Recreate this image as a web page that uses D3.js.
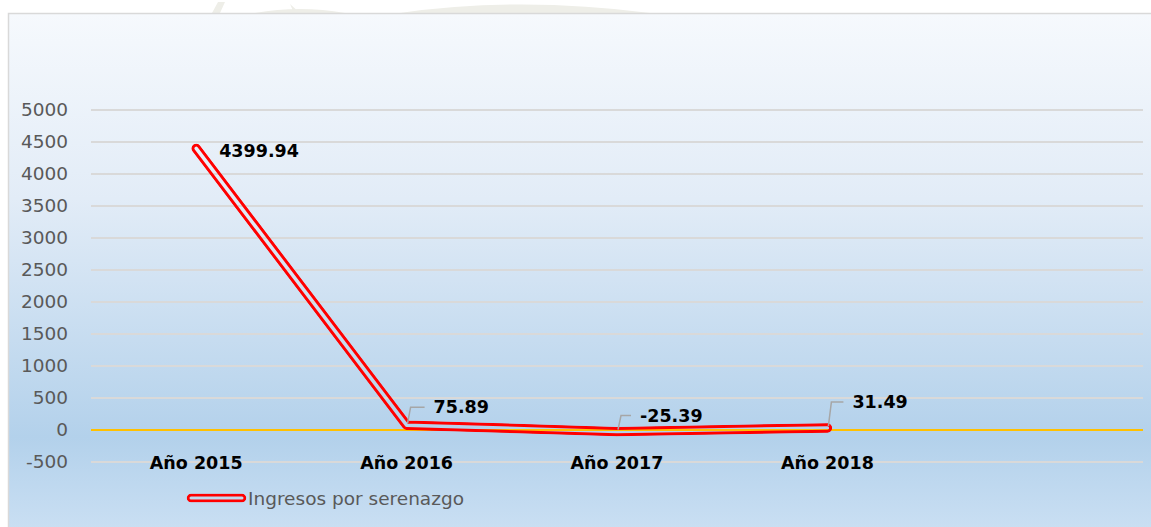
<!DOCTYPE html>
<html>

<head>
    <meta charset="utf-8">
    <title>Ingresos por serenazgo</title>
    <script src="https://d3js.org/d3.v7.min.js"></script>
    <style>
        body {
            margin: 0;
            padding: 0;
            overflow: hidden;
            background: #fff;
        }
    </style>
</head>

<body>
    <script>
        // data
        var categories = ["Año 2015", "Año 2016", "Año 2017", "Año 2018", ""];
        var values = [4399.94, 75.89, -25.39, 31.49];
        var labels = ["4399.94", "75.89", "-25.39", "31.49"];
        var yTicks = [-500, 0, 500, 1000, 1500, 2000, 2500, 3000, 3500, 4000, 4500, 5000];
        var seriesName = "Ingresos por serenazgo";

        // where the data labels were dragged to (pixel offsets from the point)
        var labelOffsets = [[23, 9], [27, -12], [23, -10], [25, -20]];

        var width = 1151,
            height = 527;

        var svg = d3.select("body").append("svg")
            .attr("width", width)
            .attr("height", height);

        var defs = svg.append("defs");
        var grad = defs.append("linearGradient")
            .attr("id", "bg")
            .attr("x1", 0).attr("y1", 0).attr("x2", 0).attr("y2", 1);
        grad.append("stop").attr("offset", "0%").attr("stop-color", "#f6f9fd");
        grad.append("stop").attr("offset", "35%").attr("stop-color", "#e2ecf7");
        grad.append("stop").attr("offset", "80%").attr("stop-color", "#b3d1eb");
        grad.append("stop").attr("offset", "100%").attr("stop-color", "#cde1f4");

        // faint watermark peeking above the chart
        svg.append("path")
            .attr("d", "M255,13 Q300,5 345,13 Z M400,13 Q520,-4 650,13 Z M212,13 L218,2 L225,2 L220,13 Z M290,4 L300,13 L294,13 Z")
            .attr("fill", "#eeeee8");

        svg.append("rect")
            .attr("x", 8.5).attr("y", 13.5)
            .attr("width", 1160).attr("height", 530)
            .attr("fill", "url(#bg)")
            .attr("stroke", "#d9d9d9")
            .attr("stroke-width", 1.5);

        var x = d3.scaleBand()
            .domain(categories)
            .range([91, 1143]);

        var y = d3.scaleLinear()
            .domain([0, 5000])
            .range([430, 110]);

        // gridlines
        svg.append("g").selectAll("line")
            .data(yTicks)
            .join("line")
            .attr("x1", 91).attr("x2", 1143)
            .attr("y1", d => y(d)).attr("y2", d => y(d))
            .attr("stroke", d => d === 0 ? "#ffc000" : "#d9d9d9")
            .attr("stroke-width", 2);

        // y axis labels
        var yAxis = d3.axisLeft(y).tickValues(yTicks).tickSize(0).tickPadding(0)
            .tickFormat(d => String(d));
        var gy = svg.append("g")
            .attr("transform", "translate(68,0)")
            .call(yAxis);
        gy.select(".domain").remove();
        gy.selectAll("text")
            .attr("font-family", "DejaVu Sans")
            .attr("font-size", 18.5)
            .attr("fill", "#595959");

        // category labels
        svg.append("g").selectAll("text")
            .data(categories)
            .join("text")
            .attr("x", d => x(d) + x.bandwidth() / 2)
            .attr("y", 469)
            .attr("text-anchor", "middle")
            .attr("font-family", "DejaVu Sans")
            .attr("font-weight", "bold")
            .attr("font-size", 17.5)
            .attr("fill", "#000")
            .text(d => d);

        var px = (d, i) => x(categories[i]) + x.bandwidth() / 2;

        // double (compound) red line: outer stroke with a see-through core
        var line = d3.line()
            .x(px)
            .y(d => y(d));
        var pathD = line(values);

        var mask = defs.append("mask").attr("id", "lineMask")
            .attr("maskUnits", "userSpaceOnUse")
            .attr("x", 0).attr("y", 0).attr("width", width).attr("height", height);
        mask.append("path").attr("d", pathD).attr("fill", "none")
            .attr("stroke", "#fff").attr("stroke-width", 9.5)
            .attr("stroke-linejoin", "round").attr("stroke-linecap", "round");
        mask.append("path").attr("d", pathD).attr("fill", "none")
            .attr("stroke", "#000").attr("stroke-width", 3.5)
            .attr("stroke-linejoin", "round").attr("stroke-linecap", "round");

        svg.append("path")
            .attr("d", pathD)
            .attr("fill", "none")
            .attr("stroke", "#ff0000")
            .attr("stroke-width", 10)
            .attr("stroke-linejoin", "round")
            .attr("stroke-linecap", "round")
            .attr("mask", "url(#lineMask)");

        // leader lines for labels that were moved off their points
        svg.append("g").selectAll("path")
            .data(values.slice(1))
            .join("path")
            .attr("d", (d, i) => {
                var k = i + 1,
                    x0 = px(d, k),
                    y0 = y(d),
                    o = labelOffsets[k],
                    ly = y0 + o[1] - 6;
                return "M" + (x0 + 1) + "," + (y0 - 2) + "L" + (x0 + 4) + "," + ly + "L" + (x0 + o[0] - 9) + "," + ly;
            })
            .attr("fill", "none")
            .attr("stroke", "#a6a6a6")
            .attr("stroke-width", 1.5);

        // data labels
        svg.append("g").selectAll("text")
            .data(values)
            .join("text")
            .attr("x", (d, i) => px(d, i) + labelOffsets[i][0])
            .attr("y", (d, i) => y(d) + labelOffsets[i][1])
            .attr("font-family", "DejaVu Sans")
            .attr("font-weight", "bold")
            .attr("font-size", 17.5)
            .attr("fill", "#000")
            .text((d, i) => labels[i]);

        // legend
        var lmask = defs.append("mask").attr("id", "legMask")
            .attr("maskUnits", "userSpaceOnUse")
            .attr("x", 0).attr("y", 0).attr("width", width).attr("height", height);
        lmask.append("line").attr("x1", 191).attr("x2", 242).attr("y1", 498).attr("y2", 498)
            .attr("stroke", "#fff").attr("stroke-width", 8.5).attr("stroke-linecap", "round");
        lmask.append("line").attr("x1", 191).attr("x2", 242).attr("y1", 498).attr("y2", 498)
            .attr("stroke", "#000").attr("stroke-width", 3).attr("stroke-linecap", "round");
        svg.append("line")
            .attr("x1", 191).attr("x2", 242).attr("y1", 498).attr("y2", 498)
            .attr("stroke", "#ff0000").attr("stroke-width", 9).attr("stroke-linecap", "round")
            .attr("mask", "url(#legMask)");
        svg.append("text")
            .attr("x", 248)
            .attr("y", 505)
            .attr("font-family", "DejaVu Sans")
            .attr("font-size", 18.5)
            .attr("fill", "#595959")
            .text(seriesName);
    </script>
</body>

</html>
